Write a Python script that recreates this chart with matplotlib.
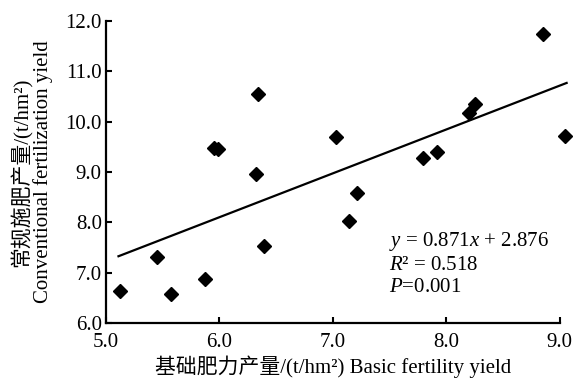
import numpy as np
import matplotlib
matplotlib.use('Agg')
import matplotlib.pyplot as plt

plt.rcParams['font.family'] = ['Liberation Serif', 'Noto Sans CJK SC']
plt.rcParams['mathtext.fontset'] = 'custom'
plt.rcParams['mathtext.rm'] = 'Liberation Serif'
plt.rcParams['mathtext.it'] = 'Liberation Serif:italic'

# 基础肥力产量 (x) 与 常规施肥产量 (y), t/hm2
basic_yield = [5.12, 5.45, 5.57, 5.87, 5.95, 5.99, 6.32, 6.34, 6.39,
               7.03, 7.14, 7.21, 7.79, 7.92, 8.20, 8.25, 8.85, 9.05]
conv_yield = [6.63, 7.31, 6.58, 6.88, 9.48, 9.45, 8.95, 10.55, 7.53,
              9.69, 8.03, 8.58, 9.27, 9.40, 10.18, 10.35, 11.74, 9.71]

slope = 0.871
intercept = 2.876
r2 = 0.518
p_value = 0.001

x_ticks = [5.0, 6.0, 7.0, 8.0, 9.0]
y_ticks = [6.0, 7.0, 8.0, 9.0, 10.0, 11.0, 12.0]

fig = plt.figure(figsize=(5.73, 3.86), dpi=100)
ax = fig.add_axes([0.185, 0.163, 0.792, 0.783])

ax.plot(basic_yield, conv_yield, 'D', color='black', markersize=7,
        zorder=3, clip_on=False)

# 回归线
xl = np.array([min(basic_yield) - 0.01, max(basic_yield) + 0.01])
ax.plot(xl, slope * xl + intercept, color='black', lw=1.6, clip_on=False)

ax.set_xlim(5.0, 9.0)
ax.set_ylim(6.0, 12.0)
ax.set_xticks(x_ticks)
ax.set_yticks(y_ticks)
ax.set_xticklabels(['%.1f' % v for v in x_ticks])
ax.set_yticklabels(['%.1f' % v for v in y_ticks])
ax.tick_params(direction='in', length=4, width=1.5, labelsize=15)
ax.tick_params(axis='x', pad=7)
ax.tick_params(axis='y', pad=3)

for s in ['top', 'right']:
    ax.spines[s].set_visible(False)
for s in ['left', 'bottom']:
    ax.spines[s].set_linewidth(1.6)

ax.set_xlabel('基础肥力产量/(t/hm²) Basic fertility yield', fontsize=15, labelpad=3)
ax.set_ylabel('常规施肥产量/(t/hm²)\nConventional fertilization yield',
              fontsize=15, labelpad=9, linespacing=1.05)

ax.text(0.623, 0.197,
        '$y$ = %.3f$x$ + %.3f\n$R$² = %.3f\n$P$=%.3f' % (slope, intercept, r2, p_value),
        transform=ax.transAxes, fontsize=15, linespacing=1.22, va='center')

fig.savefig('out.png', dpi=100)
